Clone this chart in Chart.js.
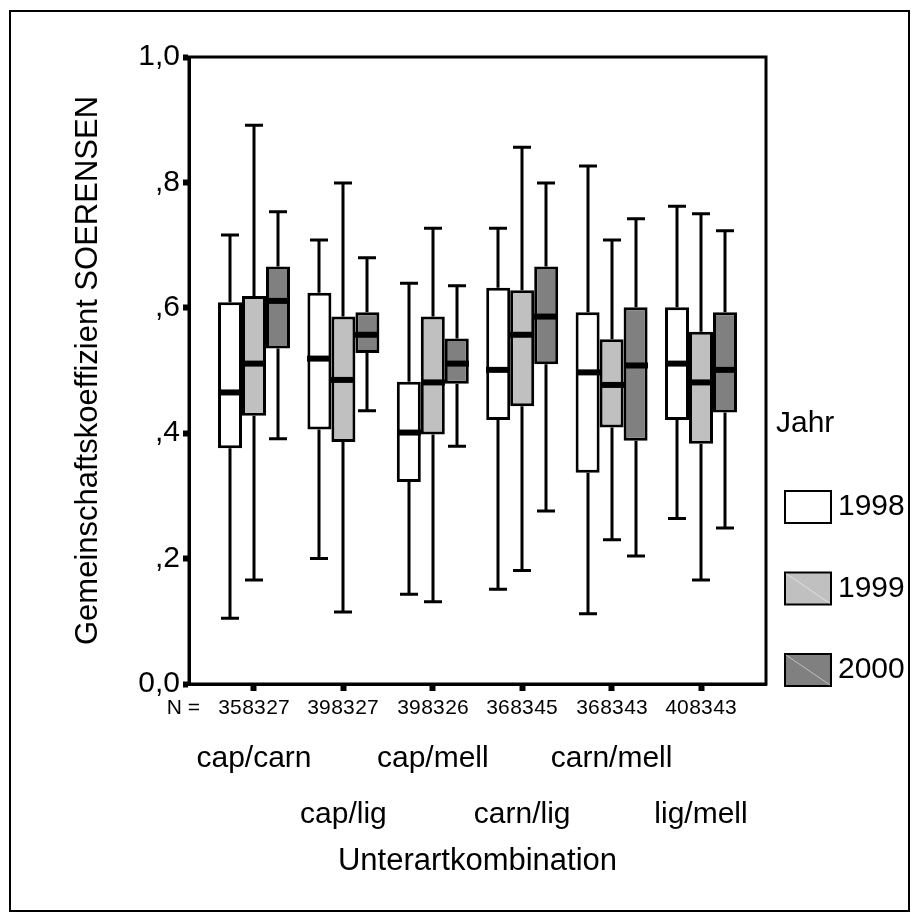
<!DOCTYPE html>
<html>
<head>
<meta charset="utf-8">
<script src="https://cdn.jsdelivr.net/npm/chart.js@4.4.1/dist/chart.umd.min.js"></script>
<style>
  html, body { margin: 0; padding: 0; background: #fff; }
  #wrap { width: 919px; height: 920px; }
</style>
</head>
<body>
<div id="wrap"><canvas id="soerensenChart"></canvas></div>
<script>
// Unterartkombinationen und Jahre
const kombinationen = ['cap/carn', 'cap/lig', 'cap/mell', 'carn/lig', 'carn/mell', 'lig/mell'];
const jahre = ['1998', '1999', '2000'];
const farben = ['#ffffff', '#c0c0c0', '#808080'];

// Stichprobenumfang N
const n1998 = [35, 39, 39, 36, 36, 40];
const n1999 = [83, 83, 83, 83, 83, 83];
const n2000 = [27, 27, 26, 45, 43, 43];

// Boxplot-Kennwerte 1998
const min1998 = [0.105, 0.200, 0.143, 0.151, 0.112, 0.264];
const q1_1998 = [0.376, 0.406, 0.322, 0.421, 0.337, 0.421];
const med1998 = [0.465, 0.519, 0.401, 0.501, 0.497, 0.511];
const q3_1998 = [0.609, 0.624, 0.482, 0.632, 0.593, 0.601];
const max1998 = [0.716, 0.708, 0.639, 0.727, 0.826, 0.762];

// Boxplot-Kennwerte 1999
const min1999 = [0.166, 0.115, 0.131, 0.181, 0.230, 0.166];
const q1_1999 = [0.428, 0.386, 0.398, 0.443, 0.409, 0.383];
const med1999 = [0.511, 0.485, 0.481, 0.557, 0.477, 0.481];
const q3_1999 = [0.619, 0.586, 0.586, 0.628, 0.550, 0.562];
const max1999 = [0.891, 0.799, 0.727, 0.856, 0.708, 0.750];

// Boxplot-Kennwerte 2000
const min2000 = [0.391, 0.436, 0.379, 0.276, 0.204, 0.249];
const q1_2000 = [0.535, 0.528, 0.479, 0.510, 0.388, 0.433];
const med2000 = [0.611, 0.557, 0.511, 0.586, 0.508, 0.501];
const q3_2000 = [0.666, 0.593, 0.551, 0.666, 0.601, 0.593];
const max2000 = [0.753, 0.680, 0.635, 0.799, 0.742, 0.723];

// Achsenbeschriftung y
const yWerte = [0, 0.2, 0.4, 0.6, 0.8, 1.0];
const yLabels = ['0,0', ',2', ',4', ',6', ',8', '1,0'];

const kennwerte = [
  { n: n1998, min: min1998, q1: q1_1998, med: med1998, q3: q3_1998, max: max1998 },
  { n: n1999, min: min1999, q1: q1_1999, med: med1999, q3: q3_1999, max: max1999 },
  { n: n2000, min: min2000, q1: q1_2000, med: med2000, q3: q3_2000, max: max2000 }
];
const xPos = kombinationen.map((k, i) => i + 1);

const schrift = 'Liberation Sans, Arial, Helvetica, sans-serif';
Chart.defaults.font.family = schrift;
Chart.defaults.color = '#000';

const boxplot = {
  id: 'boxplot',
  beforeDraw(chart) {
    const { ctx, width, height } = chart;
    ctx.save();
    ctx.fillStyle = '#fff';
    ctx.fillRect(0, 0, width, height);
    ctx.strokeStyle = '#000';
    ctx.lineWidth = 2;
    ctx.strokeRect(10, 11, width - 20, height - 20);
    ctx.restore();
  },
  afterDatasetsDraw(chart) {
    const { ctx, chartArea: a, scales: { y } } = chart;
    ctx.save();
    ctx.strokeStyle = '#000';
    ctx.lineCap = 'butt';
    kennwerte.forEach((kw, i) => {
      chart.getDatasetMeta(i).data.forEach((bar, j) => {
        const x = Math.round(bar.x);
        const half = bar.width / 2;
        const yMax = y.getPixelForValue(kw.max[j]);
        const yMin = y.getPixelForValue(kw.min[j]);
        ctx.lineWidth = 3;
        ctx.beginPath();
        ctx.moveTo(x, y.getPixelForValue(kw.q3[j]));
        ctx.lineTo(x, yMax);
        ctx.moveTo(x, y.getPixelForValue(kw.q1[j]));
        ctx.lineTo(x, yMin);
        ctx.moveTo(x - 9, yMax);
        ctx.lineTo(x + 9, yMax);
        ctx.moveTo(x - 9, yMin);
        ctx.lineTo(x + 9, yMin);
        ctx.stroke();
        // Median
        ctx.lineWidth = 6;
        ctx.beginPath();
        const yMed = y.getPixelForValue(kw.med[j]);
        ctx.moveTo(x - half, yMed);
        ctx.lineTo(x + half, yMed);
        ctx.stroke();
        // N
        ctx.fillStyle = '#000';
        ctx.font = '21px ' + schrift;
        ctx.textAlign = 'center';
        ctx.textBaseline = 'middle';
        ctx.fillText(String(kw.n[j]), x, a.bottom + 24);
      });
    });
    ctx.textAlign = 'right';
    ctx.fillText('N =', a.left + 11, a.bottom + 24);
    // Rahmen um Diagrammfläche
    ctx.lineWidth = 3;
    ctx.strokeRect(a.left, a.top, a.right - a.left, a.bottom - a.top);
    ctx.restore();
  },
  afterDraw(chart) {
    const { ctx } = chart;
    ctx.save();
    ctx.fillStyle = '#000';
    ctx.textBaseline = 'middle';
    ctx.textAlign = 'left';
    ctx.font = '30px ' + schrift;
    ctx.fillText('Jahr', 776, 424);
    jahre.forEach((jahr, i) => {
      const yc = 507 + i * 81.5;
      ctx.fillStyle = farben[i];
      ctx.fillRect(785, yc - 16, 46, 32);
      ctx.strokeStyle = '#000';
      ctx.lineWidth = 2;
      ctx.strokeRect(785, yc - 16, 46, 32);
      if (i > 0) {
        ctx.strokeStyle = 'rgba(255,255,255,0.5)';
        ctx.lineWidth = 1;
        ctx.beginPath();
        ctx.moveTo(786, yc - 15);
        ctx.lineTo(830, yc + 15);
        ctx.stroke();
      }
      ctx.fillStyle = '#000';
      ctx.fillText(jahr, 838, yc);
    });
    ctx.restore();
  }
};

new Chart(document.getElementById('soerensenChart'), {
  type: 'bar',
  data: {
    datasets: jahre.map((jahr, i) => ({
      label: jahr,
      data: xPos.map((x, j) => ({ x: x, y: [kennwerte[i].q1[j], kennwerte[i].q3[j]] })),
      backgroundColor: farben[i],
      borderColor: '#000',
      borderWidth: 3,
      borderSkipped: false,
      categoryPercentage: 0.805,
      barPercentage: 1.0
    }))
  },
  options: {
    responsive: true,
    maintainAspectRatio: false,
    animation: false,
    layout: { padding: { left: 0, right: 153, top: 57, bottom: 0 } },
    plugins: {
      legend: { display: false },
      tooltip: { enabled: false }
    },
    scales: {
      x: {
        type: 'linear',
        offset: false,
        min: 0.273,
        max: 6.727,
        afterFit: s => { s.height = 236; },
        afterBuildTicks: s => { s.ticks = xPos.map(v => ({ value: v })); },
        border: { display: true, color: '#000', width: 3 },
        grid: { offset: false, drawOnChartArea: false, drawTicks: true, tickLength: 7, tickWidth: 6, tickColor: '#000' },
        ticks: {
          autoSkip: false,
          maxRotation: 0,
          padding: 40,
          font: { size: 30, lineHeight: 1.85 },
          callback: (v) => {
            const i = Math.round(v) - 1;
            return i % 2 === 0 ? [kombinationen[i]] : ['', kombinationen[i]];
          }
        },
        title: {
          display: true,
          text: 'Unterartkombination',
          font: { size: 31 },
          padding: { top: 0, bottom: 40 }
        }
      },
      y: {
        min: 0,
        max: 1,
        afterFit: s => { s.width = 189; },
        afterBuildTicks: s => { s.ticks = yWerte.map(v => ({ value: v })); },
        border: { display: true, color: '#000', width: 3 },
        grid: { drawOnChartArea: false, drawTicks: true, tickLength: 6, tickWidth: 6, tickColor: '#000' },
        ticks: {
          padding: 3,
          font: { size: 30 },
          callback: (v) => yLabels[yWerte.indexOf(v)]
        },
        title: {
          display: true,
          text: 'Gemeinschaftskoeffizient SOERENSEN',
          font: { size: 31 },
          padding: { top: 70, bottom: 0 }
        }
      }
    }
  },
  plugins: [boxplot]
});
</script>
</body>
</html>
